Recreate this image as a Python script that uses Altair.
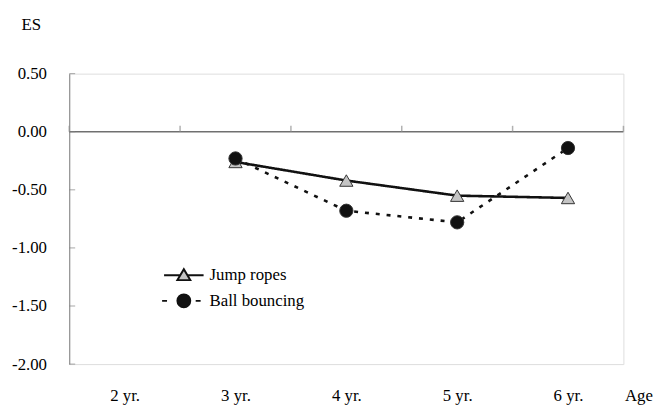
import json
import altair as alt
import pandas as pd

# ---- data ----
ages = ["2 yr.", "3 yr.", "4 yr.", "5 yr.", "6 yr."]
series_names = ["Jump ropes", "Ball bouncing"]
jump_ages = ["3 yr.", "4 yr.", "5 yr.", "6 yr."]
jump_es = [-0.26, -0.42, -0.55, -0.57]
ball_ages = ["3 yr.", "4 yr.", "5 yr.", "6 yr."]
ball_es = [-0.23, -0.68, -0.78, -0.14]
y_ticks = [0.5, 0.0, -0.5, -1.0, -1.5, -2.0]
y_domain = [-2.0, 0.5]

FONT = "Liberation Serif"
FS = 17
W, H = 561, 294

rows = []
for a, v in zip(jump_ages, jump_es):
    rows.append({"idx": ages.index(a), "es": v, "series": series_names[0]})
for a, v in zip(ball_ages, ball_es):
    rows.append({"idx": ages.index(a), "es": v, "series": series_names[1]})
df = pd.DataFrame(rows)

bounds = pd.DataFrame({"idx": [i - 0.5 for i in range(len(ages) + 1)], "es": 0.0})
zero_df = pd.DataFrame({"es": [0.0]})
ytick_df = pd.DataFrame({"es": y_ticks})

label_expr = json.dumps(ages) + "[datum.value]"
x_scale = alt.Scale(domain=[-0.5, len(ages) - 0.5], nice=False, zero=False)
x_axis = alt.Axis(
    values=list(range(len(ages))), labelExpr=label_expr, domain=False, ticks=False,
    grid=False, labelFont=FONT, labelFontSize=FS, labelColor="black",
    labelBaseline="middle", labelPadding=32, title="Age", titleFont=FONT,
    titleFontSize=FS, titleFontWeight="normal", titleColor="black",
    titleX=562, titleY=32, titleAlign="left", titleBaseline="middle",
)
y_scale = alt.Scale(domain=y_domain, nice=False, zero=False)
y_axis = alt.Axis(
    values=y_ticks,
    labelExpr="datum.value < 0 ? '-' + format(abs(datum.value), '.2f') : format(datum.value, '.2f')",
    domain=True, domainColor="#808080", domainWidth=1, ticks=False, grid=False,
    labelFont=FONT, labelFontSize=FS, labelColor="black", labelPadding=23,
    title="ES", titleFont=FONT, titleFontSize=FS, titleFontWeight="normal",
    titleColor="black", titleAngle=0, titleX=-39, titleY=-50,
    titleAlign="center", titleBaseline="middle",
)

X = lambda: alt.X("idx:Q", scale=x_scale, axis=x_axis)
Y = lambda: alt.Y("es:Q", scale=y_scale, axis=y_axis)

zero_line = alt.Chart(zero_df).mark_rule(color="#707070", strokeWidth=1.3).encode(
    y=Y(), x=alt.value(0), x2=alt.value(W)
)
x_ticks = alt.Chart(bounds).mark_tick(
    orient="vertical", size=6, yOffset=-3, thickness=1.5, color="#909090"
).encode(x=X(), y=Y())
y_tick_marks = alt.Chart(ytick_df).mark_tick(
    orient="horizontal", size=6, xOffset=3, thickness=1, color="#808080"
).encode(y=Y(), x=alt.value(0))

lines = alt.Chart(df).mark_line(color="#111111", strokeWidth=2.6).encode(
    x=X(), y=Y(), detail="series:N",
    strokeDash=alt.StrokeDash("series:N", scale=alt.Scale(domain=series_names, range=[[1, 0], [4, 7]]), legend=None),
)

points = alt.Chart(df).mark_point(size=180, opacity=1, stroke="#333333", strokeWidth=1).encode(
    x=X(), y=Y(),
    shape=alt.Shape("series:N", scale=alt.Scale(domain=series_names, range=["triangle-up", "circle"]), legend=None),
    fill=alt.Fill("series:N", scale=alt.Scale(domain=series_names, range=["#c4c4c4", "#111111"]), legend=None),
)

path_jump = ("M-3,0H-1.34M-0.66,0H1"
             "M-1.65,0.5L-0.35,0.5L-1,-0.6Z")
path_ball = ("M-3.2,0H-2.7M0.2,0H0.7"
             "M-0.35,0A0.65,0.65 0 1,1 -1.65,0A0.65,0.65 0 1,1 -0.35,0Z")
legend = alt.Legend(
    title=None, orient="none", legendX=115, legendY=193, padding=0,
    labelFont=FONT, labelFontSize=FS, labelColor="black", labelOffset=5,
    rowPadding=6, symbolStrokeWidth=2, symbolStrokeColor="#111111",
    symbolSize=400, symbolOpacity=1, labelLimit=0,
)
legend_layer = alt.Chart(df).transform_filter("false").mark_point(
    size=400, opacity=1, strokeWidth=2
).encode(
    x=X(), y=Y(),
    shape=alt.Shape("series:N", scale=alt.Scale(domain=series_names, range=[path_jump, path_ball]), legend=legend),
    fill=alt.Fill("series:N", scale=alt.Scale(domain=series_names, range=["#c4c4c4", "#111111"]), legend=legend),
    stroke=alt.Stroke("series:N", scale=alt.Scale(domain=series_names, range=["#111111", "#111111"]), legend=legend),
)

chart = alt.layer(zero_line, x_ticks, y_tick_marks, lines, points, legend_layer).resolve_scale(
    shape="independent", fill="independent", stroke="independent"
).properties(
    width=W, height=H,
    autosize=alt.AutoSizeParams(type="none"),
    padding={"left": 62, "top": 64, "right": 35, "bottom": 43},
).configure_view(stroke=None).configure(background="white", font=FONT)

chart.save("out.html", embed_options={"renderer": "svg", "actions": False})
